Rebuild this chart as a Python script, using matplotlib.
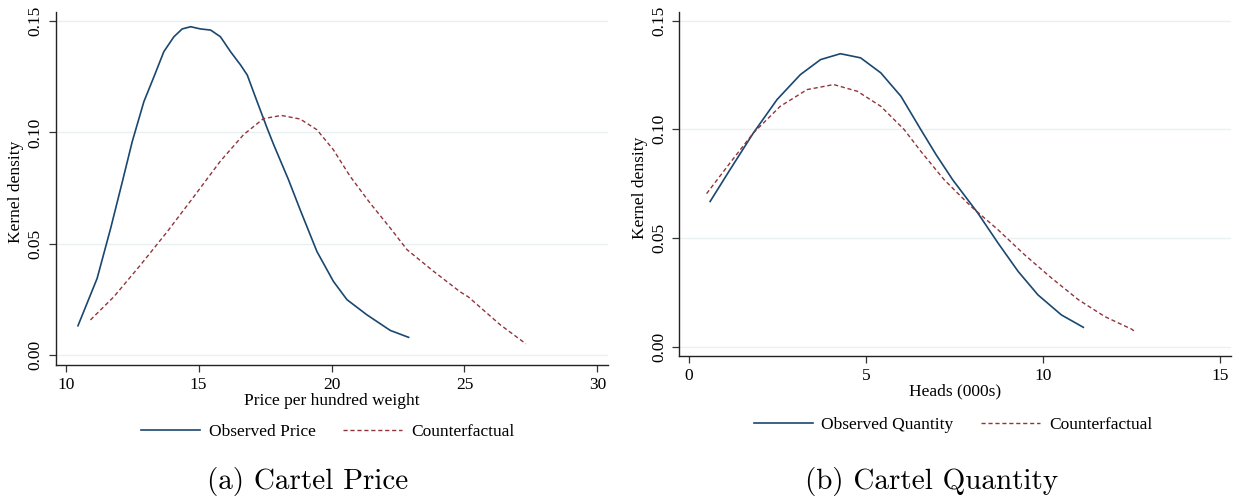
import matplotlib.pyplot as plt

# density curves
price_obs_x = [10.46, 11.18, 11.69, 12.13, 12.50, 12.94, 13.32, 13.69, 14.07, 14.38, 14.70, 15.07,
               15.45, 15.82, 16.20, 16.58, 16.83, 17.20, 17.58, 17.83, 18.38, 18.82, 19.45, 20.07,
               20.58, 21.33, 22.21, 22.90]
price_obs_y = [0.0133, 0.0345, 0.0570, 0.0779, 0.0958, 0.1138, 0.1250, 0.1362, 0.1429, 0.1464, 0.1474, 0.1464,
               0.1459, 0.1429, 0.1362, 0.1302, 0.1257, 0.1138, 0.1018, 0.0943, 0.0788, 0.0653, 0.0466, 0.0332,
               0.0250, 0.0182, 0.0112, 0.0081]
price_cf_x = [10.93, 11.81, 12.81, 13.82, 14.82, 15.81, 16.69, 17.44, 18.12, 18.82, 19.45, 20.07,
              20.70, 21.45, 22.21, 22.84, 23.84, 24.84, 25.15, 26.34, 27.31]
price_cf_y = [0.0159, 0.0263, 0.0405, 0.0555, 0.0712, 0.0870, 0.0990, 0.1062, 0.1076, 0.1060, 0.1012, 0.0922,
              0.0803, 0.0683, 0.0571, 0.0474, 0.0377, 0.0285, 0.0262, 0.0138, 0.0052]

qty_obs_x = [0.60, 1.16, 1.82, 2.49, 3.15, 3.72, 4.28, 4.85, 5.42, 5.99, 6.55, 6.98,
             7.45, 8.16, 8.73, 9.30, 9.86, 10.52, 11.14]
qty_obs_y = [0.0668, 0.0814, 0.0983, 0.1137, 0.1252, 0.1321, 0.1348, 0.1329, 0.1260, 0.1152, 0.0999, 0.0884,
             0.0768, 0.0615, 0.0477, 0.0346, 0.0238, 0.0146, 0.0089]
qty_cf_x = [0.50, 1.16, 1.82, 2.58, 3.34, 4.09, 4.76, 5.42, 6.08, 6.55, 7.21, 7.97,
            8.73, 9.48, 10.24, 11.00, 11.75, 12.51, 12.62]
qty_cf_y = [0.0704, 0.0845, 0.0983, 0.1106, 0.1183, 0.1206, 0.1175, 0.1106, 0.0999, 0.0899, 0.0768, 0.0645,
            0.0538, 0.0423, 0.0316, 0.0216, 0.0138, 0.0080, 0.0066]

yticks = [0.00, 0.05, 0.10, 0.15]
ytick_labels = ["0.00", "0.05", "0.10", "0.15"]

BLUE = "#1a476f"
RED = "#90353b"
GRID = "#e8f0f2"

plt.rcParams['font.family'] = ['Liberation Serif', 'DejaVu Serif']

fig = plt.figure(figsize=(12.39, 5.04), dpi=100)
axL = fig.add_axes([0.0449, 0.2758, 0.4458, 0.7004])
axR = fig.add_axes([0.5480, 0.2937, 0.4455, 0.6825])


def style(ax, xlim, xticks, xlabel, ylab_x):
    ax.set_xlim(*xlim)
    ax.set_ylim(-0.0043, 0.154)
    ax.set_xticks(xticks)
    ax.set_yticks(yticks)
    ax.set_yticklabels(ytick_labels, rotation=90, va='center')
    for s in ['top', 'right']:
        ax.spines[s].set_visible(False)
    for s in ['left', 'bottom']:
        ax.spines[s].set_linewidth(1.0)
        ax.spines[s].set_color('#222222')
    ax.tick_params(direction='out', length=5, width=0.9, color='#333333', labelsize=12.5, pad=3.5)
    ax.grid(axis='y', color=GRID, linewidth=1.0)
    ax.set_axisbelow(True)
    ax.set_xlabel(xlabel, fontsize=12.5, labelpad=0)
    ax.set_ylabel("Kernel density", fontsize=12.5)
    ax.yaxis.set_label_coords(ylab_x, 0.49)


axL.plot(price_obs_x, price_obs_y, color=BLUE, lw=1.2, label="Observed Price")
axL.plot(price_cf_x, price_cf_y, color=RED, lw=1.0, dashes=(3, 2), label="Counterfactual")
style(axL, (9.62, 30.4), [10, 15, 20, 25, 30], "Price per hundred weight", -0.057)

axR.plot(qty_obs_x, qty_obs_y, color=BLUE, lw=1.2, label="Observed Quantity")
axR.plot(qty_cf_x, qty_cf_y, color=RED, lw=1.0, dashes=(3, 2), label="Counterfactual")
style(axR, (-0.28, 15.31), [0, 5, 10, 15], "Heads (000s)", -0.0567)

for ax, cx, cy in [(axL, 327.5 / 1239, 1 - 432 / 504), (axR, 953 / 1239, 1 - 425 / 504)]:
    h, l = ax.get_legend_handles_labels()
    fig.legend(h, l, loc='center', bbox_to_anchor=(cx, cy), ncol=2, frameon=False,
               fontsize=12.5, handlelength=3.4, columnspacing=1.6, handletextpad=0.5)

fig.text(308 / 1239, 1 - 482 / 504, "(a) Cartel Price", family='cmr10', fontsize=21,
         ha='center', va='center')
fig.text(932 / 1239, 1 - 482 / 504, "(b) Cartel Quantity", family='cmr10', fontsize=21,
         ha='center', va='center')

fig.savefig("out.png", dpi=100)
